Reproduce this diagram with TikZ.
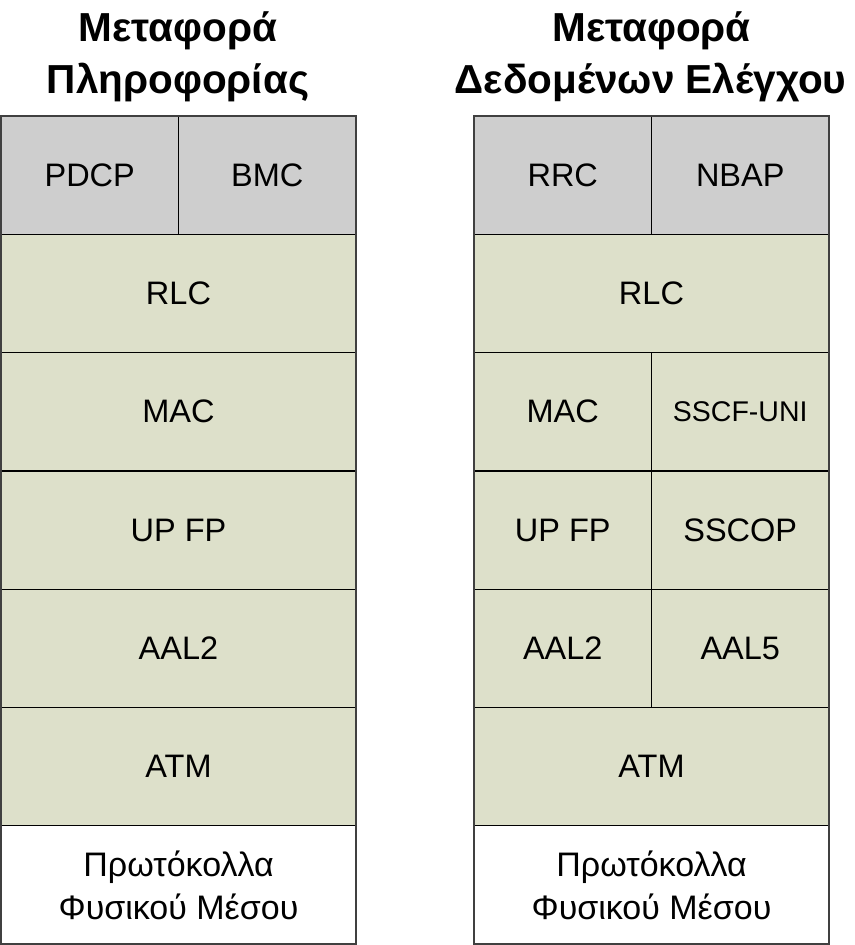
\documentclass[tikz,border=0pt]{standalone}
\usepackage{fontspec}
\setmainfont{Liberation Sans}
\usetikzlibrary{positioning}
\definecolor{layergray}{RGB}{206,206,206}
\definecolor{layergreen}{RGB}{221,224,202}
\definecolor{framegray}{RGB}{64,64,64}

\begin{document}
\begin{tikzpicture}[x=1pt, y=-1pt,
	cell/.style={draw=black, line width=1.2pt, inner sep=0pt, outer sep=0pt,
		minimum height=118.3pt, align=center, font=\fontsize{32.5}{43}\selectfont},
	wide/.style={cell, minimum width=355pt},
	half/.style={cell, minimum width=177.5pt},
	top/.style={fill=layergray},
	mid/.style={fill=layergreen},
	phys/.style={fill=white, font=\fontsize{34}{43}\selectfont},
	title/.style={anchor=base, inner sep=0pt, font=\bfseries\fontsize{40.5}{40}\selectfont}]
	\useasboundingbox (0,0) rectangle (854,945);

	% titles
	\node[title] (titleA1) at (178,41) {Μεταφορά};
	\node[title] (titleA2) at (178,93) {Πληροφορίας};
	\node[title] (titleB1) at (651.5,41) {Μεταφορά};
	\node[title] (titleB2) at (650.5,93) {Δεδομένων Ελέγχου};

	% user plane stack
	\node[half, top, anchor=north west] (pdcp) at (1,116) {PDCP};
	\node[half, top, right=0pt of pdcp] (bmc) {BMC};
	\node[wide, mid, anchor=north west] (rlcA) at (pdcp.south west) {RLC};
	\node[wide, mid, below=0pt of rlcA] (macA) {MAC};
	\node[wide, mid, below=0pt of macA] (upfpA) {UP FP};
	\node[wide, mid, below=0pt of upfpA] (aalA) {AAL2};
	\node[wide, mid, below=0pt of aalA] (atmA) {ATM};
	\node[wide, phys, below=0pt of atmA] (physA) {Πρωτόκολλα\\Φυσικού Μέσου};

	% control plane stack
	\node[half, top, anchor=north west] (rrc) at (474,116) {RRC};
	\node[half, top, right=0pt of rrc] (nbap) {NBAP};
	\node[wide, mid, anchor=north west] (rlcB) at (rrc.south west) {RLC};
	\node[half, mid, anchor=north west] (macB) at (rlcB.south west) {MAC};
	\node[half, mid, right=0pt of macB, font=\fontsize{28.5}{34}\selectfont] (sscf) {SSCF-UNI};
	\node[half, mid, below=0pt of macB] (upfpB) {UP FP};
	\node[half, mid, right=0pt of upfpB] (sscop) {SSCOP};
	\node[half, mid, below=0pt of upfpB] (aalB) {AAL2};
	\node[half, mid, right=0pt of aalB] (aal5) {AAL5};
	\node[wide, mid, anchor=north west] (atmB) at (aalB.south west) {ATM};
	\node[wide, phys, below=0pt of atmB] (physB) {Πρωτόκολλα\\Φυσικού Μέσου};

	% outer frames
	\draw[framegray, line width=1.8pt] (pdcp.north west) rectangle (physA.south east);
	\draw[framegray, line width=1.8pt] (rrc.north west) rectangle (physB.south east);
\end{tikzpicture}
\end{document}
